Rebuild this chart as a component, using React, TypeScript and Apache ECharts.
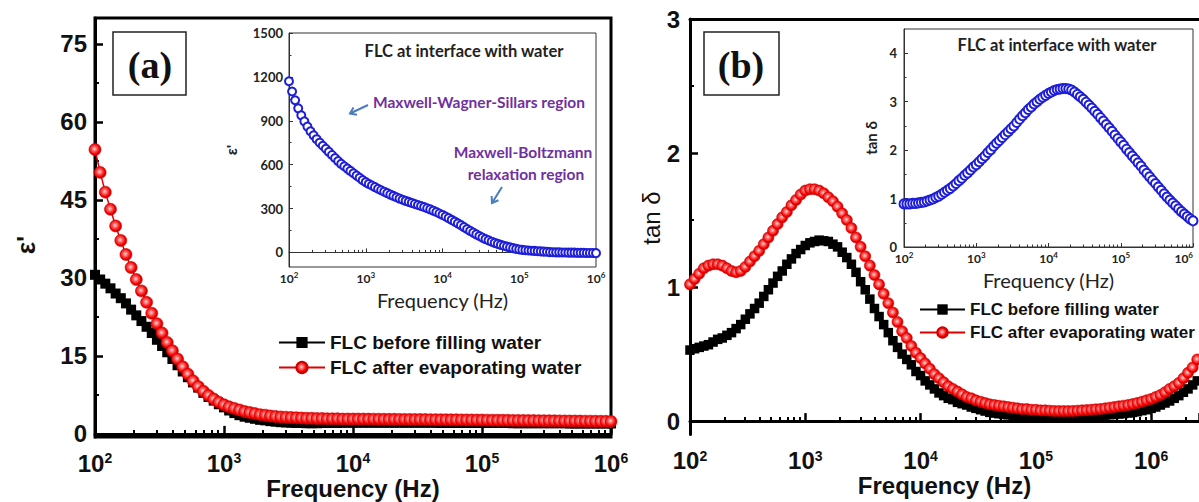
import React, { useEffect, useRef } from 'react';
import * as echarts from 'echarts';

// log10 of the measurement frequencies (Hz)
const FREQ_EXP = [
  2.00, 2.04, 2.08, 2.12, 2.16, 2.20, 2.24, 2.28, 2.32, 2.36,
  2.40, 2.44, 2.48, 2.52, 2.56, 2.60, 2.64, 2.68, 2.72, 2.76,
  2.80, 2.84, 2.88, 2.92, 2.96, 3.00, 3.04, 3.08, 3.12, 3.16,
  3.20, 3.24, 3.28, 3.32, 3.36, 3.40, 3.44, 3.48, 3.52, 3.56,
  3.60, 3.64, 3.68, 3.72, 3.76, 3.80, 3.84, 3.88, 3.92, 3.96,
  4.00, 4.04, 4.08, 4.12, 4.16, 4.20, 4.24, 4.28, 4.32, 4.36,
  4.40, 4.44, 4.48, 4.52, 4.56, 4.60, 4.64, 4.68, 4.72, 4.76,
  4.80, 4.84, 4.88, 4.92, 4.96, 5.00, 5.04, 5.08, 5.12, 5.16,
  5.20, 5.24, 5.28, 5.32, 5.36, 5.40, 5.44, 5.48, 5.52, 5.56,
  5.60, 5.64, 5.68, 5.72, 5.76, 5.80, 5.84, 5.88, 5.92, 5.96,
  6.00, 6.04, 6.08, 6.12, 6.16, 6.20, 6.24, 6.28, 6.32, 6.36,
  6.40, 6.44,
];

// (a) ε' before filling water
const EPS_BEFORE = [
  30.6, 29.7, 28.9, 28.0, 27.0, 26.1, 25.1, 23.9, 22.8, 21.7,
  20.6, 19.4, 18.1, 16.9, 15.7, 14.4, 13.2, 12.0, 10.9, 9.9,
  8.9, 7.9, 7.1, 6.4, 5.7, 5.1, 4.5, 4.0, 3.6, 3.3,
  3.1, 2.9, 2.7, 2.6, 2.45, 2.35, 2.25, 2.2, 2.15, 2.1,
  2.1, 2.05, 2.05, 2.05, 2.1, 2.1, 2.1, 2.1, 2.15, 2.15,
  2.15, 2.15, 2.15, 2.15, 2.15, 2.15, 2.15, 2.15, 2.15, 2.15,
  2.15, 2.15, 2.15, 2.15, 2.15, 2.15, 2.15, 2.1, 2.1, 2.1,
  2.1, 2.1, 2.1, 2.1, 2.1, 2.1, 2.1, 2.1, 2.1, 2.1,
  2.1, 2.05, 2.05, 2.05, 2.05, 2.05, 2.05, 2.05, 2.05, 2.05,
  2.05, 2.05, 2.0, 2.0, 2.0, 2.0, 2.0, 2.0, 2.0, 2.0,
  2.0,
];

// (a) ε' after evaporating water
const EPS_AFTER = [
  54.7, 50.3, 46.5, 43.2, 40.0, 37.2, 34.5, 32.0, 29.7, 27.5,
  25.3, 23.2, 21.2, 19.4, 17.6, 16.0, 14.4, 12.9, 11.5, 10.2,
  9.1, 8.2, 7.4, 6.7, 6.1, 5.6, 5.2, 4.9, 4.6, 4.3,
  4.1, 3.9, 3.7, 3.6, 3.45, 3.35, 3.25, 3.2, 3.15, 3.1,
  3.05, 3.0, 3.0, 2.95, 2.95, 2.9, 2.9, 2.9, 2.85, 2.85,
  2.85, 2.85, 2.84, 2.84, 2.83, 2.82, 2.81, 2.80, 2.80, 2.79,
  2.78, 2.77, 2.76, 2.76, 2.75, 2.74, 2.73, 2.72, 2.71, 2.70,
  2.70, 2.69, 2.68, 2.67, 2.66, 2.65, 2.64, 2.63, 2.62, 2.61,
  2.60, 2.59, 2.58, 2.57, 2.56, 2.55, 2.54, 2.53, 2.52, 2.51,
  2.50, 2.49, 2.48, 2.47, 2.46, 2.45, 2.44, 2.43, 2.42, 2.41,
  2.40,
];

// (b) tan δ before filling water
const TAN_BEFORE = [
  0.53, 0.54, 0.55, 0.56, 0.57, 0.59, 0.61, 0.62, 0.64, 0.66,
  0.69, 0.72, 0.76, 0.80, 0.84, 0.88, 0.93, 0.98, 1.03, 1.08,
  1.12, 1.17, 1.21, 1.25, 1.28, 1.31, 1.33, 1.34, 1.35, 1.345,
  1.34, 1.32, 1.30, 1.26, 1.22, 1.17, 1.11, 1.04, 0.98, 0.91,
  0.84, 0.78, 0.72, 0.66, 0.60, 0.55, 0.50, 0.46, 0.42, 0.37,
  0.34, 0.30, 0.27, 0.24, 0.21, 0.19, 0.17, 0.16, 0.14, 0.13,
  0.12, 0.105, 0.095, 0.085, 0.075, 0.065, 0.06, 0.055, 0.05, 0.047,
  0.045, 0.042, 0.04, 0.038, 0.036, 0.035, 0.034, 0.033, 0.032, 0.031,
  0.03, 0.03, 0.03, 0.031, 0.032, 0.033, 0.035, 0.037, 0.04, 0.042,
  0.045, 0.048, 0.05, 0.053, 0.056, 0.06, 0.065, 0.07, 0.078, 0.085,
  0.095, 0.105, 0.12, 0.135, 0.15, 0.17, 0.19, 0.215, 0.24, 0.27,
  0.30, 0.34,
];

// (b) tan δ after evaporating water
const TAN_AFTER = [
  1.02, 1.06, 1.10, 1.14, 1.16, 1.17, 1.17, 1.16, 1.14, 1.12,
  1.11, 1.12, 1.15, 1.19, 1.23, 1.27, 1.32, 1.37, 1.42, 1.47,
  1.52, 1.56, 1.61, 1.65, 1.69, 1.72, 1.73, 1.73, 1.72, 1.70,
  1.67, 1.64, 1.60, 1.55, 1.50, 1.44, 1.37, 1.30, 1.23, 1.16,
  1.09, 1.02, 0.95, 0.88, 0.81, 0.74, 0.67, 0.62, 0.56, 0.51,
  0.47, 0.43, 0.39, 0.35, 0.32, 0.29, 0.26, 0.24, 0.22, 0.20,
  0.18, 0.17, 0.155, 0.145, 0.135, 0.125, 0.12, 0.115, 0.11, 0.105,
  0.10, 0.095, 0.09, 0.09, 0.085, 0.085, 0.08, 0.08, 0.078, 0.076,
  0.075, 0.075, 0.075, 0.076, 0.078, 0.08, 0.082, 0.085, 0.088, 0.09,
  0.095, 0.10, 0.105, 0.11, 0.115, 0.12, 0.127, 0.135, 0.145, 0.155,
  0.165, 0.18, 0.195, 0.215, 0.24, 0.26, 0.285, 0.32, 0.36, 0.40,
  0.46, 0.53,
];

// insets: FLC at interface with water
const EPS_WATER = [
  1170, 1100, 1040, 985, 937, 896, 860, 828, 800, 774,
  750, 729, 708, 687, 666, 645, 624, 605, 589, 573,
  557, 541, 525, 510, 494, 480, 468, 457, 446, 435,
  425, 415, 405, 395, 386, 377, 368, 360, 352, 345,
  338, 331, 324, 317, 310, 302, 294, 285, 276, 266,
  256, 245, 234, 222, 210, 198, 186, 173, 160, 147,
  135, 123, 112, 101, 91, 82, 73, 65, 58, 51,
  45, 39, 34, 29, 24, 20, 17, 15, 13, 11,
  10, 8, 7, 5, 4, 2, 1, 0, 0, -1,
  -1, -2, -2, -2, -3, -3, -3, -4, -4, -4,
  -5,
];

const TAN_WATER = [
  0.89, 0.89, 0.89, 0.90, 0.90, 0.91, 0.92, 0.93, 0.95, 0.97,
  0.99, 1.02, 1.05, 1.09, 1.13, 1.17, 1.21, 1.26, 1.31, 1.37,
  1.42, 1.48, 1.53, 1.59, 1.65, 1.70, 1.76, 1.82, 1.88, 1.95,
  2.01, 2.08, 2.14, 2.20, 2.26, 2.32, 2.38, 2.44, 2.50, 2.57,
  2.64, 2.71, 2.77, 2.84, 2.89, 2.95, 3.00, 3.05, 3.09, 3.13,
  3.17, 3.20, 3.23, 3.25, 3.26, 3.27, 3.27, 3.26, 3.24, 3.20,
  3.15, 3.10, 3.05, 2.99, 2.93, 2.87, 2.80, 2.74, 2.67, 2.60,
  2.53, 2.46, 2.39, 2.31, 2.24, 2.17, 2.10, 2.02, 1.95, 1.88,
  1.81, 1.74, 1.67, 1.59, 1.52, 1.45, 1.38, 1.31, 1.24, 1.17,
  1.10, 1.03, 0.97, 0.91, 0.85, 0.79, 0.73, 0.68, 0.63, 0.58,
  0.54,
];

// tick positions
const EPS_TICKS = [0, 15, 30, 45, 60, 75];
const EPS_MINOR = [7.5, 22.5, 37.5, 52.5, 67.5];
const TAN_TICKS = [0, 1, 2, 3];
const TAN_MINOR = [0.5, 1.5, 2.5];
const IN_EPS_TICKS = [0, 300, 600, 900, 1200, 1500];
const IN_EPS_MINOR = [150, 450, 750, 1050, 1350];
const IN_TAN_TICKS = [0, 1, 2, 3, 4];
const IN_TAN_MINOR = [0.5, 1.5, 2.5, 3.5];
const MINOR_FREQ = [
  200, 300, 400, 500, 600, 700, 800, 900,
  2000, 3000, 4000, 5000, 6000, 7000, 8000, 9000,
  20000, 30000, 40000, 50000, 60000, 70000, 80000, 90000,
  200000, 300000, 400000, 500000, 600000, 700000, 800000, 900000,
  2000000,
];

const NAME_BEFORE = 'FLC before filling water';
const NAME_AFTER = 'FLC after evaporating water';
const NAME_WATER = 'FLC at interface with water';

const SANS = '"Liberation Sans", Arial, sans-serif';
const SOFT = 'Lato, "Liberation Sans", sans-serif';
const INK = '#111';

function toPoints(values: number[]) {
  return values.map((v, i) => [Math.pow(10, FREQ_EXP[i]), v]);
}

function decadeFormatter(v: number) {
  const e = Math.log10(v);
  const r = Math.round(e);
  if (Math.abs(e - r) > 1e-6) return '';
  return `{b|10}{s|${r}}`;
}

function logMajor(grid: number, max: number, big: boolean, name: string, alignMax = false) {
  return {
    type: 'log', logBase: 10, gridIndex: grid, min: 100, max, position: 'bottom',
    axisLine: { show: true, lineStyle: { color: big ? '#000' : '#333', width: big ? 3 : 1 } },
    axisTick: { show: true, inside: true, length: big ? 8 : 4, lineStyle: { color: big ? '#000' : '#333', width: big ? 2.5 : 1 } },
    splitLine: { show: false },
    axisLabel: {
      show: true, margin: big ? 14 : 4, formatter: decadeFormatter,
      alignMaxLabel: alignMax ? 'right' : undefined,
      rich: big
        ? {
            b: { fontFamily: SANS, fontWeight: 'bold', fontSize: 24, color: INK, lineHeight: 24 },
            s: { fontFamily: SANS, fontWeight: 'bold', fontSize: 14, color: INK, verticalAlign: 'top', lineHeight: 14 },
          }
        : {
            b: { fontFamily: SOFT, fontWeight: 'bold', fontSize: 12, color: '#222', lineHeight: 14 },
            s: { fontFamily: SOFT, fontWeight: 'bold', fontSize: 8, color: '#222', verticalAlign: 'top', lineHeight: 8 },
          },
    },
    name, nameLocation: 'middle', nameGap: big ? 39 : 23, nameMoveOverlap: false,
    nameTextStyle: big
      ? { fontFamily: SANS, fontWeight: 'bold', fontSize: 24, color: INK }
      : { fontFamily: SOFT, fontWeight: 'normal', fontSize: 20, color: '#222' },
  };
}

function logMinor(grid: number, max: number, big: boolean) {
  return {
    type: 'log', logBase: 10, gridIndex: grid, min: 100, max, position: 'bottom',
    axisLine: { show: false }, axisLabel: { show: false }, splitLine: { show: false },
    axisTick: { show: true, inside: true, length: big ? 4 : 2.5, customValues: MINOR_FREQ, lineStyle: { color: big ? '#000' : '#333', width: big ? 2 : 1 } },
  };
}

function valMajor(grid: number, min: number, max: number, ticks: number[], big: boolean, name: string, nameGap: number, nameStyle: any, labelMargin: number) {
  return {
    type: 'value', gridIndex: grid, min, max, position: 'left',
    axisLine: { show: true, lineStyle: { color: big ? '#000' : '#333', width: big ? 3 : 1 } },
    axisTick: { show: true, inside: true, length: big ? 8 : 4, customValues: ticks, lineStyle: { color: big ? '#000' : '#333', width: big ? 2.5 : 1 } },
    axisLabel: {
      show: true, customValues: ticks, margin: labelMargin, formatter: (v: number) => String(v),
      fontFamily: big ? SANS : SOFT, fontWeight: 'bold', fontSize: big ? 24 : 13, color: big ? INK : '#222',
    },
    splitLine: { show: false },
    name, nameLocation: 'middle', nameGap, nameMoveOverlap: false, nameTextStyle: nameStyle,
  };
}

function valMinor(grid: number, min: number, max: number, ticks: number[], big: boolean) {
  return {
    type: 'value', gridIndex: grid, min, max, position: 'left',
    axisLine: { show: false }, axisLabel: { show: false }, splitLine: { show: false },
    axisTick: { show: true, inside: true, length: big ? 4 : 2.5, customValues: ticks, lineStyle: { color: big ? '#000' : '#333', width: big ? 2 : 1 } },
  };
}

function arrow(x1: number, y1: number, x2: number, y2: number) {
  const dx = x1 - x2;
  const dy = y1 - y2;
  const len = Math.hypot(dx, dy);
  const ux = dx / len;
  const uy = dy / len;
  const a = (35 * Math.PI) / 180;
  const w1 = [x2 + 7 * (ux * Math.cos(a) - uy * Math.sin(a)), y2 + 7 * (ux * Math.sin(a) + uy * Math.cos(a))];
  const w2 = [x2 + 7 * (ux * Math.cos(a) + uy * Math.sin(a)), y2 + 7 * (-ux * Math.sin(a) + uy * Math.cos(a))];
  const stroke = { stroke: '#4a7ebb', lineWidth: 2, fill: 'none' };
  return [
    { type: 'line', shape: { x1, y1, x2, y2 }, style: stroke, z: 20 },
    { type: 'polyline', shape: { points: [w1, [x2, y2], w2] }, style: stroke, z: 20 },
  ];
}

function txt(x: number, y: number, text: string, font: string, fill: string, rotation = 0) {
  return {
    type: 'text', x, y, z: 20, rotation,
    style: { text, font, fill, align: 'center', textAlign: 'center', verticalAlign: 'middle', textVerticalAlign: 'middle' },
  };
}

export default function App() {
  const ref = useRef<HTMLDivElement>(null);

  useEffect(() => {
    if (!ref.current) return;
    const chart = echarts.init(ref.current, undefined, { renderer: 'svg' });

    const redBall = new echarts.graphic.RadialGradient(0.45, 0.45, 0.6, [
      { offset: 0, color: '#ffd8d8' },
      { offset: 0.35, color: '#ff5a5a' },
      { offset: 0.7, color: '#f00000' },
      { offset: 1, color: '#c40000' },
    ]);

    // panel (b) is cropped at the right edge of the picture
    const B_MAX = Math.pow(10, 6.415);

    const option: any = {
      animation: false,
      backgroundColor: '#fff',
      grid: [
        { left: 95, top: 18, width: 516, height: 419, show: true, borderColor: '#000', borderWidth: 3, backgroundColor: 'transparent', outerBoundsMode: 'none' },
        { left: 690, top: 19, width: 509, height: 415.5, show: false, outerBoundsMode: 'none' },
        { left: 289, top: 33, width: 307, height: 234, show: true, borderColor: '#333', borderWidth: 1, backgroundColor: '#fff', outerBoundsMode: 'none' },
        { left: 904, top: 29, width: 289, height: 218, show: true, borderColor: '#333', borderWidth: 1, backgroundColor: '#fff', outerBoundsMode: 'none' },
      ],
      xAxis: [
        logMajor(0, 1e6, true, 'Frequency (Hz)'),
        logMinor(0, 1e6, true),
        logMajor(1, B_MAX, true, 'Frequency (Hz)'),
        logMinor(1, B_MAX, true),
        logMajor(2, 1e6, false, 'Frequency (Hz)'),
        logMinor(2, 1e6, false),
        logMajor(3, 1e6, false, 'Frequency (Hz)', true),
        logMinor(3, 1e6, false),
        {
          type: 'log', logBase: 10, gridIndex: 1, min: 100, max: B_MAX, position: 'top',
          axisLine: { show: true, lineStyle: { color: '#000', width: 3 } },
          axisTick: { show: false }, axisLabel: { show: false }, splitLine: { show: false },
        },
      ],
      yAxis: [
        valMajor(0, -0.6, 80, EPS_TICKS, true, '', 58, {}, 8),
        valMinor(0, -0.6, 80, EPS_MINOR, true),
        valMajor(1, -0.1, 3, TAN_TICKS, true, '', 30, {}, 10),
        valMinor(1, -0.1, 3, TAN_MINOR, true),
        valMajor(2, -100, 1500, IN_EPS_TICKS, false, "ε'", 50, { fontFamily: SANS, fontWeight: 'bold', fontSize: 15, color: '#222' }, 6),
        valMinor(2, -100, 1500, IN_EPS_MINOR, false),
        valMajor(3, 0, 4.5, IN_TAN_TICKS, false, 'tan δ', 26, { fontFamily: SOFT, fontWeight: 'bold', fontSize: 15, color: '#222' }, 7),
        valMinor(3, 0, 4.5, IN_TAN_MINOR, false),
      ],
      legend: [
        {
          orient: 'vertical', left: 278, top: 333, padding: 0, itemWidth: 46, itemHeight: 14, itemGap: 6,
          selectedMode: false, data: [NAME_BEFORE, NAME_AFTER],
          textStyle: { fontFamily: SANS, fontWeight: 'bold', fontSize: 19, color: INK },
        },
        {
          orient: 'vertical', left: 919, top: 301, padding: 0, itemWidth: 45, itemHeight: 13, itemGap: 6,
          selectedMode: false, data: [NAME_BEFORE, NAME_AFTER],
          textStyle: { fontFamily: SANS, fontWeight: 'bold', fontSize: 17, color: INK },
        },
      ],
      series: [
        {
          name: NAME_BEFORE, type: 'line', xAxisIndex: 0, yAxisIndex: 0, data: toPoints(EPS_BEFORE),
          symbol: 'rect', symbolSize: 10, showAllSymbol: true, itemStyle: { color: '#000' }, lineStyle: { color: '#000', width: 1.5 }, z: 3,
        },
        {
          name: NAME_AFTER, type: 'line', xAxisIndex: 0, yAxisIndex: 0, data: toPoints(EPS_AFTER),
          symbol: 'circle', symbolSize: 12, showAllSymbol: true, itemStyle: { color: redBall, borderColor: '#d00000', borderWidth: 0.6 },
          lineStyle: { color: '#e00000', width: 1.5 }, z: 4,
        },
        {
          name: NAME_BEFORE, type: 'line', xAxisIndex: 2, yAxisIndex: 2, data: toPoints(TAN_BEFORE),
          symbol: 'rect', symbolSize: 9.5, showAllSymbol: true, itemStyle: { color: '#000' }, lineStyle: { color: '#000', width: 1.5 }, z: 3,
        },
        {
          name: NAME_AFTER, type: 'line', xAxisIndex: 2, yAxisIndex: 2, data: toPoints(TAN_AFTER),
          symbol: 'circle', symbolSize: 11, showAllSymbol: true, itemStyle: { color: redBall, borderColor: '#d00000', borderWidth: 0.6 },
          lineStyle: { color: '#e00000', width: 1.5 }, z: 4,
        },
        {
          name: NAME_WATER, type: 'line', xAxisIndex: 4, yAxisIndex: 4, data: toPoints(EPS_WATER),
          symbol: 'emptyCircle', symbolSize: 8, showAllSymbol: true, itemStyle: { color: '#1e1ed8', borderWidth: 1.6 },
          lineStyle: { opacity: 0 }, z: 5,
        },
        {
          name: NAME_WATER, type: 'line', xAxisIndex: 6, yAxisIndex: 6, data: toPoints(TAN_WATER),
          symbol: 'emptyCircle', symbolSize: 9, showAllSymbol: true, itemStyle: { color: '#1e1ed8', borderWidth: 2 },
          lineStyle: { opacity: 0 }, z: 5,
        },
      ],
      graphic: [
        txt(26, 245, "ε'", `bold 26px ${SANS}`, INK, Math.PI / 2),
        txt(651, 218, 'tan δ', `normal 24px ${SANS}`, INK, Math.PI / 2),
        { type: 'rect', shape: { x: 113, y: 32, width: 73, height: 63 }, style: { fill: '#fff', stroke: '#222', lineWidth: 1.5 }, z: 20 },
        txt(150, 65, '(a)', 'bold 38px "Liberation Serif", serif', INK),
        { type: 'rect', shape: { x: 704, y: 32, width: 75, height: 63 }, style: { fill: '#fff', stroke: '#222', lineWidth: 1.5 }, z: 20 },
        txt(741, 65, '(b)', 'bold 38px "Liberation Serif", serif', INK),
        txt(464, 51, NAME_WATER, `bold 16.5px ${SOFT}`, '#222'),
        txt(1057, 45, NAME_WATER, `bold 16.5px ${SOFT}`, '#222'),
        txt(479, 102, 'Maxwell-Wagner-Sillars region', `bold 15.5px ${SOFT}`, '#7030a0'),
        txt(523, 152, 'Maxwell-Boltzmann', `bold 15.5px ${SOFT}`, '#7030a0'),
        txt(526, 174, 'relaxation region', `bold 15.5px ${SOFT}`, '#7030a0'),
        ...arrow(368, 105, 350, 113.5),
        ...arrow(502, 187, 492, 203),
      ],
    };

    chart.setOption(option);
    return () => chart.dispose();
  }, []);

  return (
    <div
      ref={ref}
      style={{ position: 'fixed', left: 0, top: 0, width: 1199, height: 502, background: '#fff' }}
    />
  );
}
